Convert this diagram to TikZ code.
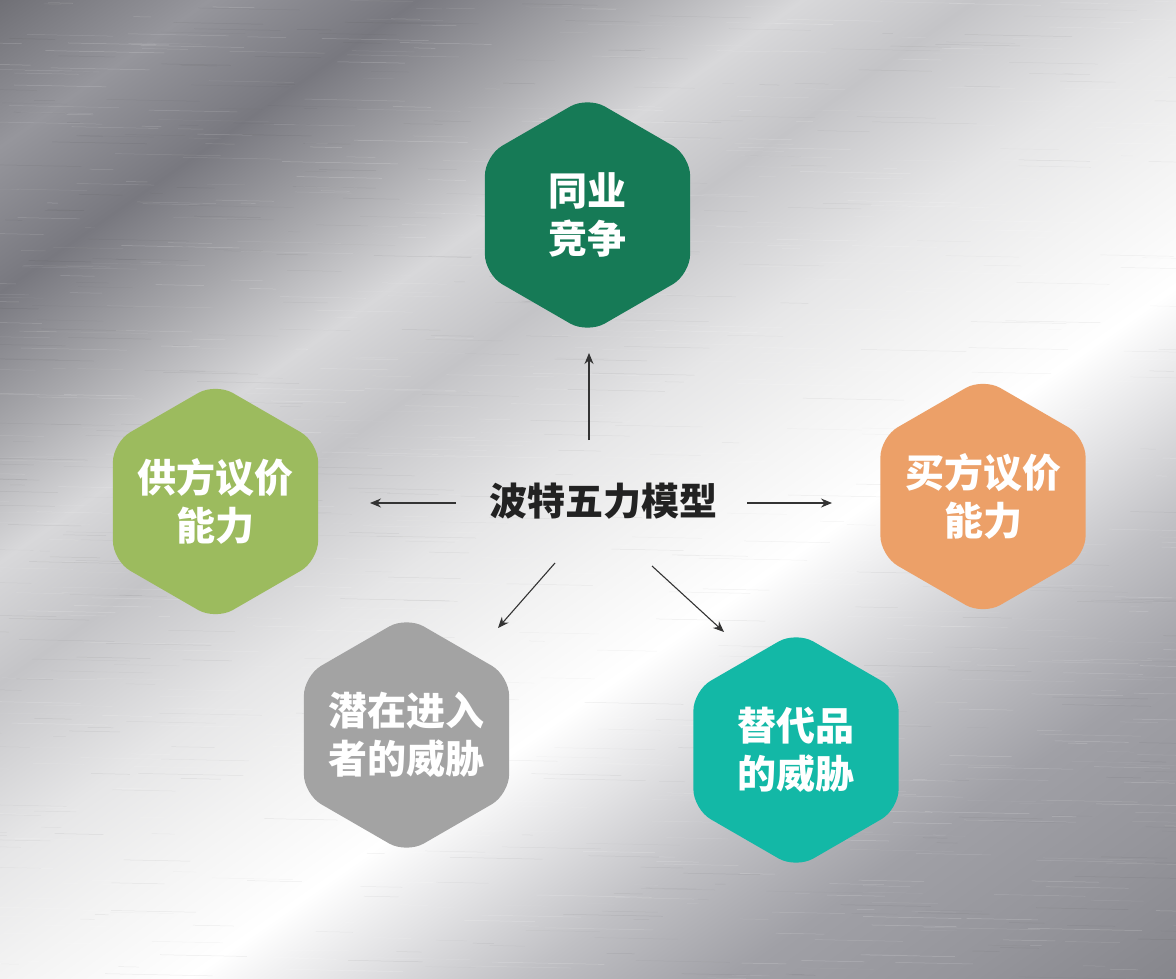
\documentclass[tikz,border=0pt]{standalone}
\usepackage{fontspec}
\newfontfamily\cjk{Noto Sans CJK SC}
\usetikzlibrary{shapes.geometric,arrows.meta}
\definecolor{m0}{HTML}{707076}
\definecolor{m1}{HTML}{96969C}
\definecolor{m2}{HTML}{78787F}
\definecolor{m3}{HTML}{A6A6AA}
\definecolor{m4}{HTML}{D8D8DA}
\definecolor{m5}{HTML}{C4C4C7}
\definecolor{m6}{HTML}{E6E6E7}
\definecolor{m7}{HTML}{F3F3F3}
\definecolor{m8}{HTML}{FFFFFF}
\definecolor{m9}{HTML}{E2E2E4}
\definecolor{m10}{HTML}{C0C0C4}
\definecolor{m11}{HTML}{A0A0A6}
\definecolor{m12}{HTML}{95959B}
\definecolor{m13}{HTML}{86868C}
\definecolor{hgreen}{HTML}{167A56}
\definecolor{holive}{HTML}{9CBB5E}
\definecolor{horange}{HTML}{ECA068}
\definecolor{hgray}{HTML}{A3A3A3}
\definecolor{hteal}{HTML}{13B8A6}
\definecolor{arrowcol}{HTML}{333333}
\definecolor{titlecol}{HTML}{222222}
\pgfdeclarehorizontalshading{metal}{100bp}{color(0bp)=(m0); color(25bp)=(m0); color(29.06bp)=(m1); color(33.12bp)=(m2); color(36.85bp)=(m3); color(40.57bp)=(m4); color(43.96bp)=(m5); color(48.70bp)=(m6); color(52.08bp)=(m7); color(55.81bp)=(m8); color(58.85bp)=(m9); color(62.24bp)=(m10); color(66.30bp)=(m11); color(70.70bp)=(m12); color(75bp)=(m13); color(100bp)=(m13)}
\begin{document}
\begin{tikzpicture}[x=1pt,y=-1pt,
  hexbox/.style={regular polygon, regular polygon sides=6, shape border rotate=30,
    minimum size=237pt, inner sep=0pt, rounded corners=20pt},
  hextext/.style={text=white, inner sep=0pt,
    font=\cjk\bfseries\fontsize{39pt}{48pt}\selectfont, align=center},
  titletext/.style={text=titlecol, font=\cjk\bfseries\fontsize{38pt}{46pt}\selectfont, inner sep=0pt},
  arr/.style={draw=arrowcol, line width=1.1pt, -{Stealth[length=11pt,width=9pt]}},
  streak/.style={line width=0.5pt}]
\useasboundingbox (0,0) rectangle (1176,979);
% background
\begin{scope}
  \clip (0,0) rectangle (1176,979);
  \begin{scope}[transform canvas={rotate=-55}]
    \shade[shading=metal, x=1pt, y=1pt] (0,-570) rectangle (1477,970);
  \end{scope}
  \pgfmathsetseed{11}
  \foreach \i in {1,...,900}{
    \pgfmathsetmacro\xx{rnd*1300-80}
    \pgfmathsetmacro\yy{rnd*985}
    \pgfmathsetmacro\ll{10+rnd*110}
    \pgfmathsetmacro\op{0.05+0.17*rnd}
    \draw[streak, white, opacity=\op] (\xx,\yy) -- ++(\ll,0.02*\ll);
  }
  \foreach \i in {1,...,500}{
    \pgfmathsetmacro\xx{rnd*1300-80}
    \pgfmathsetmacro\yy{rnd*985}
    \pgfmathsetmacro\ll{10+rnd*100}
    \pgfmathsetmacro\op{0.02+0.05*rnd}
    \draw[streak, black, opacity=\op] (\xx,\yy) -- ++(\ll,0.02*\ll);
  }
\end{scope}
% hexagons
\node[hexbox, fill=hgreen,  label={[hextext]center:同业\\竞争}]       (rivalry)    at (587.5,215)   {};
\node[hexbox, fill=holive,  label={[hextext]center:供方议价\\能力}]   (supplier)   at (215.5,501.5) {};
\node[hexbox, fill=horange, label={[hextext]center:买方议价\\能力}]   (buyer)      at (983,496.5)   {};
\node[hexbox, fill=hgray,   label={[hextext]center:潜在进入\\者的威胁}] (entrant)  at (406.5,735)   {};
\node[hexbox, fill=hteal,   label={[hextext]center:替代品\\的威胁}]   (substitute) at (796,750)     {};
% title
\node[titletext] (title) at (603.5,501) {波特五力模型};
% arrow ends
\coordinate (upS) at (589,440);   \coordinate (upE) at (589,353);
\coordinate (lfS) at (456,503);   \coordinate (lfE) at (370,503);
\coordinate (rtS) at (747,503);   \coordinate (rtE) at (832,503);
\coordinate (dlS) at (555,563);   \coordinate (dlE) at (498,628);
\coordinate (drS) at (652,566);   \coordinate (drE) at (724,632);
\draw[arr] (upS) -- (upE);
\draw[arr] (lfS) -- (lfE);
\draw[arr] (rtS) -- (rtE);
\draw[arr] (dlS) -- (dlE);
\draw[arr] (drS) -- (drE);
\end{tikzpicture}
\end{document}
